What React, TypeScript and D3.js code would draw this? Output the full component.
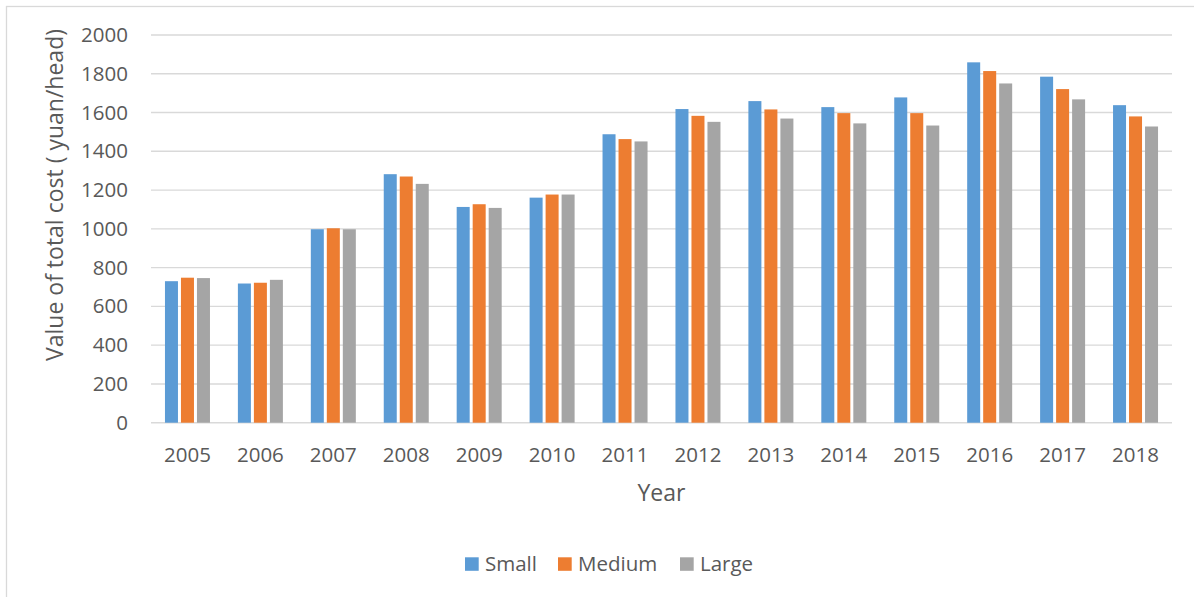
import React from "react";
import * as d3 from "d3";

const years = ["2005", "2006", "2007", "2008", "2009", "2010", "2011", "2012", "2013", "2014", "2015", "2016", "2017", "2018"];
const seriesNames = ["Small", "Medium", "Large"];
const small = [730, 718, 998, 1282, 1113, 1161, 1488, 1618, 1659, 1628, 1678, 1859, 1785, 1638];
const medium = [748, 722, 1003, 1270, 1127, 1177, 1463, 1583, 1616, 1597, 1597, 1814, 1721, 1580];
const large = [746, 737, 998, 1232, 1108, 1177, 1451, 1552, 1569, 1544, 1533, 1750, 1668, 1528];
const yTicks = [0, 200, 400, 600, 800, 1000, 1200, 1400, 1600, 1800, 2000];
const colors = ["#5B9BD5", "#ED7D31", "#A5A5A5"];

const W = 1194;
const H = 597;
const FONT = "'Open Sans', sans-serif";
const TEXT = "#595959";

export default function App() {
  const seriesValues = [small, medium, large];
  const plotLeft = 151;
  const plotRight = 1172;
  const plotTop = 35;
  const plotBottom = 422.7;

  const x = d3.scaleBand<string>().domain(years).range([plotLeft, plotRight]).padding(0);
  const step = x.step();
  const groupW = 45;
  const xs = d3
    .scaleBand<string>()
    .domain(seriesNames)
    .range([(step - groupW) / 2, (step + groupW) / 2])
    .paddingInner(0.1875)
    .paddingOuter(0);
  const y = d3.scaleLinear().domain([0, 2000]).range([plotBottom, plotTop]);

  const legendItems = [
    { name: "Small", x: 465 },
    { name: "Medium", x: 558 },
    { name: "Large", x: 680 },
  ];

  return (
    <div style={{ position: "absolute", left: 0, top: 0 }}>
      <svg width={W} height={H} style={{ display: "block", background: "#fff" }}>
        <rect x={0} y={0} width={W} height={H} fill="#fff" />
        <rect x={6.5} y={6.5} width={1400} height={800} fill="none" stroke="#d9d9d9" strokeWidth={1.3} />

        {yTicks.map((t) => (
          <g key={t}>
            <line x1={plotLeft} x2={plotRight} y1={y(t)} y2={y(t)} stroke="#d9d9d9" strokeWidth={1.4} />
            <text
              x={128}
              y={y(t) + 7}
              textAnchor="end"
              fontFamily={FONT}
              fontSize={20.5}
              fill={TEXT}
            >
              {t}
            </text>
          </g>
        ))}

        {years.map((yr, i) => (
          <g key={yr} transform={`translate(${x(yr)},0)`}>
            {seriesNames.map((s, j) => {
              const v = seriesValues[j][i];
              return (
                <rect
                  key={s}
                  x={xs(s)}
                  y={y(v)}
                  width={xs.bandwidth()}
                  height={y(0) - y(v)}
                  fill={colors[j]}
                />
              );
            })}
            <text
              x={step / 2}
              y={461.7}
              textAnchor="middle"
              fontFamily={FONT}
              fontSize={20.5}
              fill={TEXT}
            >
              {yr}
            </text>
          </g>
        ))}

        <text
          x={(plotLeft + plotRight) / 2}
          y={500.7}
          textAnchor="middle"
          fontFamily={FONT}
          fontSize={23}
          fill={TEXT}
        >
          Year
        </text>

        <text
          transform={`translate(62.5,195) rotate(-90)`}
          textAnchor="middle"
          fontFamily={FONT}
          fontSize={23}
          fill={TEXT}
        >
          Value of total cost ( yuan/head)
        </text>

        {legendItems.map((item, j) => (
          <g key={item.name}>
            <rect x={item.x} y={557.3} width={13.7} height={13.5} fill={colors[j]} />
            <text x={item.x + 20} y={571} fontFamily={FONT} fontSize={20.5} fill={TEXT}>
              {item.name}
            </text>
          </g>
        ))}
      </svg>
    </div>
  );
}
